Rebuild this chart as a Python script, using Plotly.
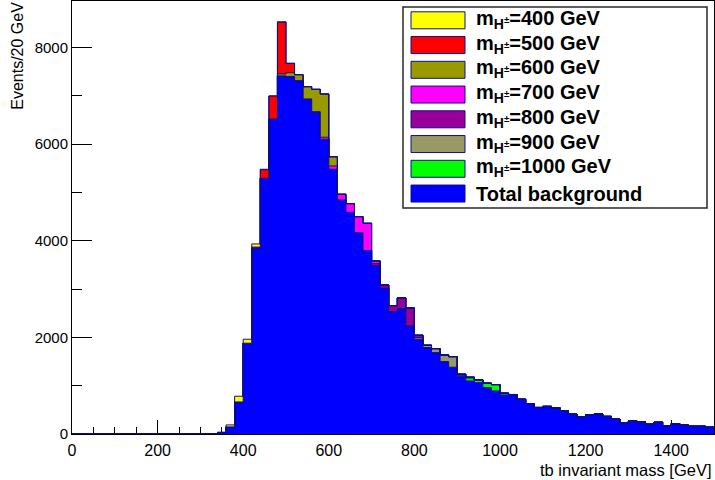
import plotly.graph_objects as go

# ---------------- data (events per 20 GeV bin, 0..1500 GeV) ----------------
bin_width = 20
x_min, x_max = 0, 1500

background = [
    0, 0, 0, 0, 0, 0, 0, 0, 0, 0, 0, 0, 0, 0, 0, 0, 0, 30, 147, 664, 1880, 3850, 5295, 6523, 7414,
    7400, 7316, 6937, 6660, 6102, 5481, 4846, 4590, 4169, 3797, 3486, 3018, 2534, 2596, 2238, 1962, 1789, 1685, 1499, 1383, 1188, 1099, 1064, 961, 892,
    809, 810, 720, 630, 550, 572, 547, 478, 410, 350, 400, 415, 365, 310, 228, 271, 250, 203, 244, 174, 215, 188, 161, 161, 141,
]
sig_400 = [
    0, 0, 0, 0, 0, 0, 0, 0, 0, 0, 0, 0, 0, 0, 0, 0, 0, 8, 41, 118, 82, 65, 10, 0, 0,
    0, 0, 0, 0, 0, 0, 0, 0, 0, 0, 0, 0, 0, 0, 0, 0, 0, 0, 0, 0, 0, 0, 0, 0, 0,
    0, 0, 0, 0, 0, 0, 0, 0, 0, 0, 0, 0, 0, 0, 0, 0, 0, 0, 0, 0, 0, 0, 0, 0, 0,
]
sig_500 = [
    0, 0, 0, 0, 0, 0, 0, 0, 0, 0, 0, 0, 0, 0, 0, 0, 0, 0, 0, 0, 0, 20, 176, 476, 1077,
    194, 0, 0, 0, 0, 0, 0, 0, 0, 0, 0, 0, 0, 0, 0, 0, 0, 0, 0, 0, 0, 0, 0, 0, 0,
    0, 0, 0, 0, 0, 0, 0, 0, 0, 0, 0, 0, 0, 0, 0, 0, 0, 0, 0, 0, 0, 0, 0, 0, 0,
]
sig_600 = [
    0, 0, 0, 0, 0, 0, 0, 0, 0, 0, 0, 0, 0, 0, 0, 0, 0, 0, 0, 0, 0, 0, 0, 0, 40,
    81, 124, 254, 463, 896, 190, 0, 0, 0, 0, 0, 0, 0, 0, 0, 0, 0, 0, 0, 0, 0, 0, 0, 0, 0,
    0, 0, 0, 0, 0, 0, 0, 0, 0, 0, 0, 0, 0, 0, 0, 0, 0, 0, 0, 0, 0, 0, 0, 0, 0,
]
sig_700 = [
    0, 0, 0, 0, 0, 0, 0, 0, 0, 0, 0, 0, 0, 0, 0, 0, 0, 0, 0, 0, 0, 0, 0, 0, 0,
    0, 0, 0, 14, 42, 69, 118, 180, 331, 566, 55, 0, 0, 0, 0, 0, 0, 0, 0, 0, 0, 0, 0, 0, 0,
    0, 0, 0, 0, 0, 0, 0, 0, 0, 0, 0, 0, 0, 0, 0, 0, 0, 0, 0, 0, 0, 0, 0, 0, 0,
]
sig_800 = [
    0, 0, 0, 0, 0, 0, 0, 0, 0, 0, 0, 0, 0, 0, 0, 0, 0, 0, 0, 0, 0, 0, 0, 0, 0,
    0, 0, 0, 0, 0, 0, 0, 0, 0, 0, 42, 68, 124, 221, 372, 50, 0, 0, 0, 0, 0, 0, 0, 0, 0,
    0, 0, 0, 0, 0, 0, 0, 0, 0, 0, 0, 0, 0, 0, 0, 0, 0, 0, 0, 0, 0, 0, 0, 0, 0,
]
sig_900 = [
    0, 0, 0, 0, 0, 0, 0, 0, 0, 0, 0, 0, 0, 0, 0, 0, 0, 0, 0, 0, 0, 0, 0, 0, 0,
    0, 0, 0, 0, 0, 0, 0, 0, 0, 0, 0, 0, 0, 0, 0, 33, 49, 83, 138, 219, 30, 17, 0, 0, 0,
    0, 0, 0, 0, 0, 0, 0, 0, 0, 0, 0, 0, 0, 0, 0, 0, 0, 0, 0, 0, 0, 0, 0, 0, 0,
]
sig_1000 = [
    0, 0, 0, 0, 0, 0, 0, 0, 0, 0, 0, 0, 0, 0, 0, 0, 0, 0, 0, 0, 0, 0, 0, 0, 0,
    0, 0, 0, 0, 0, 0, 0, 0, 0, 0, 0, 0, 0, 0, 0, 0, 0, 0, 0, 0, 20, 60, 56, 91, 131,
    36, 8, 0, 0, 0, 0, 0, 0, 0, 0, 0, 0, 0, 0, 0, 0, 0, 0, 0, 0, 0, 0, 0, 0, 0,
]

legend_labels = [
    "m<sub>H<sup>±</sup></sub>=400 GeV",
    "m<sub>H<sup>±</sup></sub>=500 GeV",
    "m<sub>H<sup>±</sup></sub>=600 GeV",
    "m<sub>H<sup>±</sup></sub>=700 GeV",
    "m<sub>H<sup>±</sup></sub>=800 GeV",
    "m<sub>H<sup>±</sup></sub>=900 GeV",
    "m<sub>H<sup>±</sup></sub>=1000 GeV",
    "Total background",
]
legend_series = [sig_400, sig_500, sig_600, sig_700, sig_800, sig_900, sig_1000, background]
colors = ["#ffff00", "#ff0000", "#999900", "#ff00ff", "#990099", "#999966", "#00ff00", "#0000ff"]

y_ticks = [0, 2000, 4000, 6000, 8000]
x_ticks = [0, 200, 400, 600, 800, 1000, 1200, 1400]

# ---------------- figure ----------------
line_col = "rgb(15,15,130)"
edges = list(range(x_min, x_max + bin_width, bin_width))

fig = go.Figure()
# stacking order: background at bottom, then signals 1000 -> 400 on top
stack_order = [7, 6, 5, 4, 3, 2, 1, 0]
cum = [0.0] * len(background)
first = True
for idx in stack_order:
    vals = legend_series[idx]
    cum = [c + v for c, v in zip(cum, vals)]
    ys = cum + [cum[-1]]
    fig.add_trace(go.Scatter(
        x=edges, y=ys, mode="lines", line=dict(shape="hv", color=line_col, width=1),
        fill="tozeroy" if first else "tonexty", fillcolor=colors[idx],
        showlegend=False, hoverinfo="skip",
    ))
    first = False

font_main = "Liberation Sans, Arial, Helvetica, sans-serif"

fig.update_layout(
    width=715, height=480,
    margin=dict(l=72, r=1, t=1, b=46),
    paper_bgcolor="white", plot_bgcolor="white",
    showlegend=False,
    font=dict(family=font_main, color="black"),
)
fig.update_xaxes(
    range=[x_min, x_max], tickvals=x_ticks, ticks="inside", ticklen=14, tickcolor="black",
    showline=True, mirror=True, linecolor="black", linewidth=1, showgrid=False, zeroline=False,
    tickfont=dict(size=16, family=font_main, color="black"), layer="below traces",
    ticklabelstandoff=2,
    minor=dict(dtick=50, ticks="inside", ticklen=7, tickcolor="black", showgrid=False),
)
fig.update_yaxes(
    range=[0, 8965], tickvals=y_ticks, ticks="inside", ticklen=20, tickcolor="black",
    showline=True, mirror=True, linecolor="black", linewidth=1, showgrid=False, zeroline=False,
    tickfont=dict(size=15, family=font_main, color="black"), layer="below traces",
    minor=dict(dtick=1000, ticks="inside", ticklen=10, tickcolor="black", showgrid=False),
)

# axis titles (ROOT style: right/top aligned)
fig.add_annotation(text="tb invariant mass [GeV]", xref="paper", yref="paper", x=1.0, y=-0.082,
                   xanchor="right", yanchor="middle", showarrow=False,
                   font=dict(size=16.5, family=font_main, color="black"))
fig.add_annotation(text="Events/20 GeV", xref="paper", yref="paper", x=-0.084, y=1.003,
                   xanchor="center", yanchor="top", textangle=-90, showarrow=False,
                   font=dict(size=16, family=font_main, color="black"))

# legend box (drawn like ROOT's TLegend)
def px_x(p):
    return (p - 72) / 642.0

def px_y(p):
    return (434 - p) / 433.0

fig.add_shape(type="rect", xref="paper", yref="paper",
              x0=px_x(403), x1=px_x(707), y0=px_y(208), y1=px_y(7),
              line=dict(color="rgb(40,40,40)", width=1.5), fillcolor="white", layer="above")
for i, (lab, col) in enumerate(zip(legend_labels, colors)):
    cy = 20.3 + 24.75 * i
    fig.add_shape(type="rect", xref="paper", yref="paper",
                  x0=px_x(411), x1=px_x(465), y0=px_y(cy + 8.5), y1=px_y(cy - 8.5),
                  line=dict(color=line_col, width=1), fillcolor=col, layer="above")
    fig.add_annotation(text="<b>" + lab + "</b>", xref="paper", yref="paper",
                       x=px_x(474), y=px_y(cy - 1 if i < 7 else cy), xanchor="left", yanchor="middle",
                       showarrow=False, font=dict(size=20, family=font_main, color="black"))

fig.write_html("out.html")
